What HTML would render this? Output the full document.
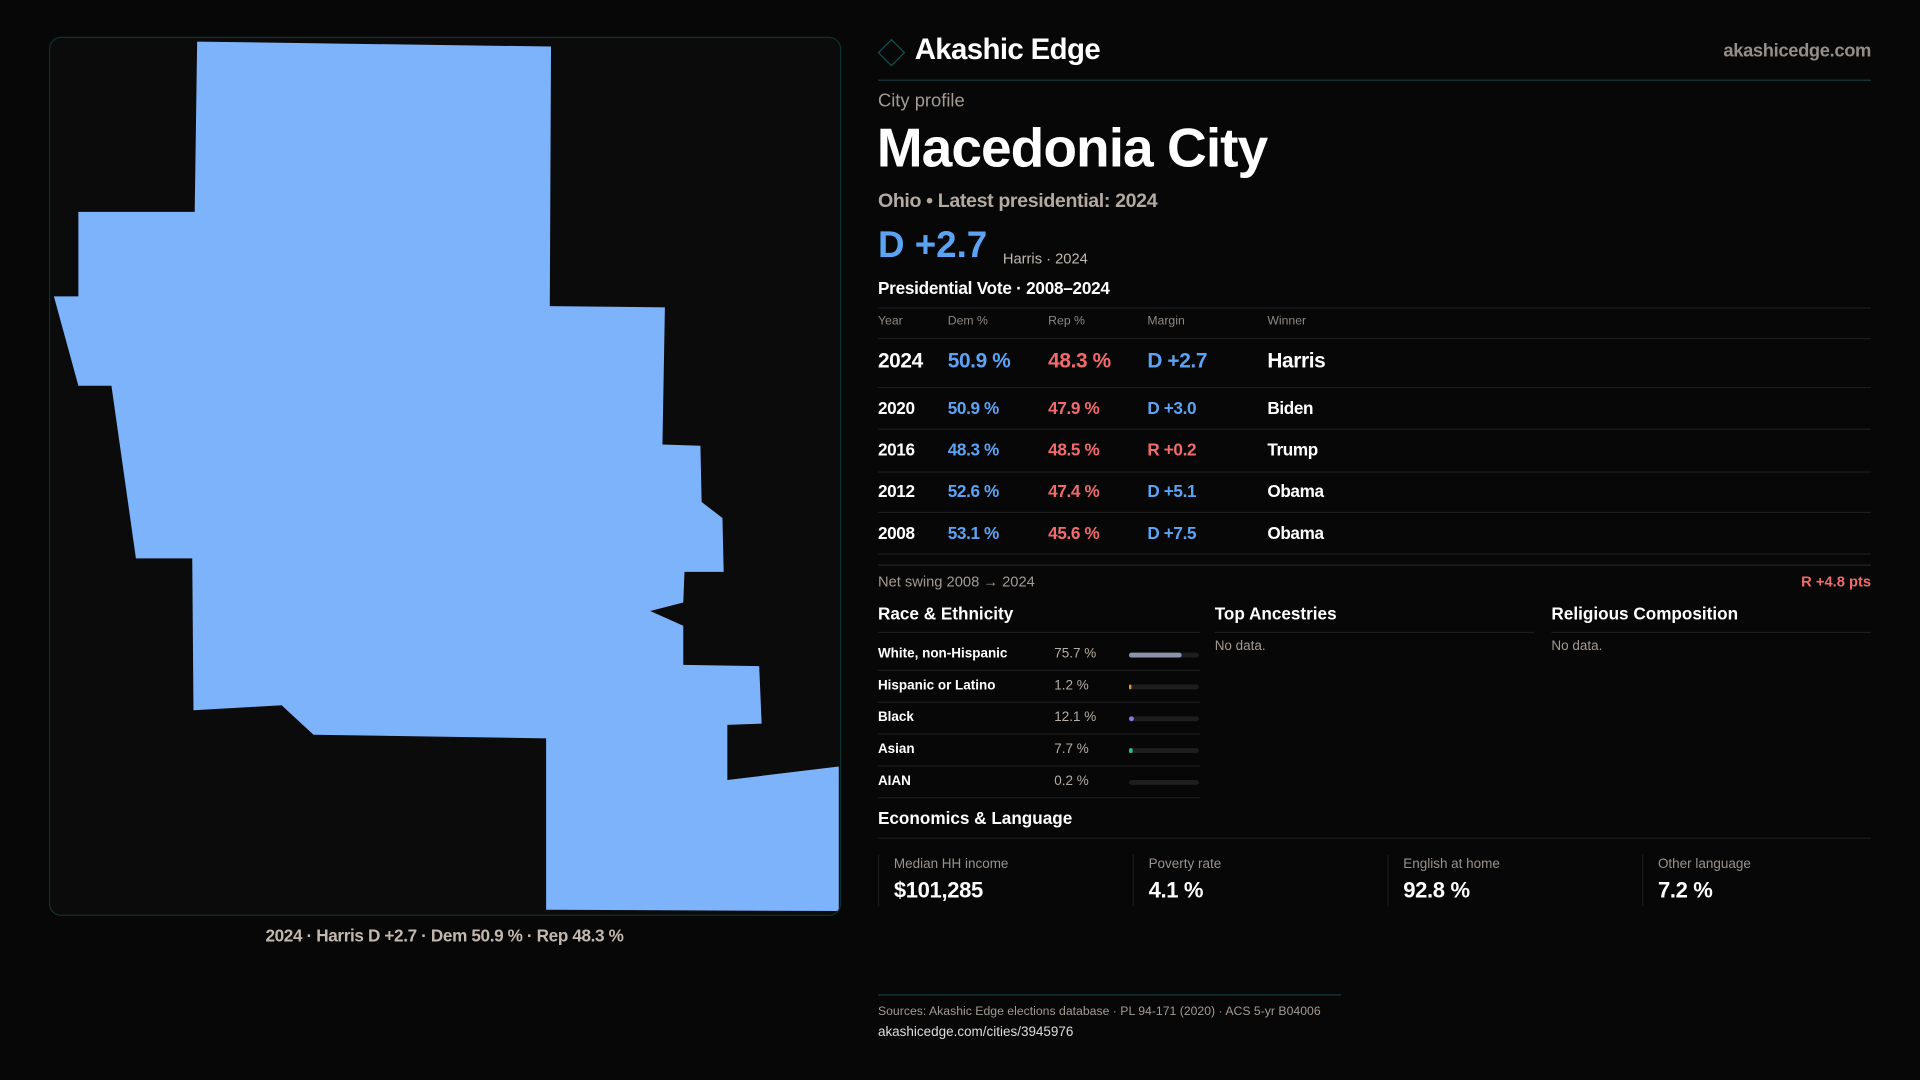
<!DOCTYPE html>
<html><head><meta charset="utf-8">
<style>
html,body{margin:0;padding:0;background:#070708;width:1920px;height:1080px;overflow:hidden}
#root{position:absolute;left:0;top:0;width:1568px;height:882px;transform:scale(1.22449);transform-origin:0 0;font-family:"Liberation Sans",sans-serif;color:#fff}
.a{position:absolute;white-space:nowrap}
.g{color:#a39a92}
.ln{position:absolute;height:1px;background:#1c1c1e}
.blue{color:#5ba4f5}.red{color:#f26b6b}
</style></head><body>
<div id="root">
  <div class="a" style="left:40px;top:30px;width:645px;height:716px;border:1px solid #12302f;border-radius:10px;background:#0b0b0c;overflow:hidden">
    <svg width="647" height="718" viewBox="40 30 647 718" style="position:absolute;left:-1px;top:-1px">
      <polygon fill="#7cb3fb" points="161,34 450,38 449,250 543,251 541,363 572,364 573,410 590,423 591,467 559,467 558,492 531,499 558,511 558,543 620,544 622,591 594,592 594,637 685,626 685,744 446,743 446,603 256,600 230,576 158,580 157,456 111,456 91,315 64,315 44,242 64,242 64,173 159,173"/>
    </svg>
  </div>
  <div class="a" style="left:40px;width:646px;top:756px;text-align:center;font-size:14px;font-weight:bold;color:#c2b8ae;letter-spacing:-0.3px">2024 · Harris D +2.7 · Dem 50.9 % · Rep 48.3 %</div>

  <div class="a" style="left:720px;top:35px;width:14px;height:14px;border:1.5px solid #164e4e;transform:rotate(45deg)"></div>
  <div class="a" style="left:747px;top:27px;font-size:24px;font-weight:bold;letter-spacing:-0.5px">Akashic Edge</div>
  <div class="a g" style="right:40px;top:33px;font-size:15px;font-weight:bold;color:#958d86;letter-spacing:-0.3px">akashicedge.com</div>
  <div class="ln" style="left:717px;width:811px;top:65px;background:#163c3e"></div>

  <div class="a g" style="left:717px;top:74px;font-size:15px">City profile</div>
  <div class="a" style="left:716px;top:95px;font-size:45px;font-weight:bold;letter-spacing:-0.8px">Macedonia City</div>
  <div class="a g" style="left:717px;top:156px;font-size:16px;font-weight:bold;color:#b2a9a0;letter-spacing:-0.3px">Ohio • Latest presidential: 2024</div>
  <div class="a blue" style="left:717px;top:184px;font-size:30px;font-weight:bold">D +2.7</div>
  <div class="a" style="left:819px;top:204px;font-size:12px;color:#c2b8ae">Harris · 2024</div>
  <div class="a" style="left:717px;top:227px;font-size:14px;font-weight:bold;letter-spacing:-0.2px">Presidential Vote · 2008–2024</div>
  <div class="ln" style="left:717px;width:811px;top:251px"></div>
  <div id="vt"></div>
  <div class="ln" style="left:717px;width:811px;top:461px;background:#262628"></div>
  <div class="a g" style="left:717px;top:468px;font-size:12px">Net swing 2008 → 2024</div>
  <div class="a red" style="right:40px;top:468px;font-size:12px;font-weight:bold">R +4.8 pts</div>

  <div class="a" style="left:717px;top:493px;font-size:14px;font-weight:bold">Race &amp; Ethnicity</div>
  <div class="a" style="left:992px;top:493px;font-size:14px;font-weight:bold">Top Ancestries</div>
  <div class="a" style="left:1267px;top:493px;font-size:14px;font-weight:bold">Religious Composition</div>
  <div class="ln" style="left:717px;width:263px;top:516px"></div>
  <div class="ln" style="left:992px;width:261px;top:516px"></div>
  <div class="ln" style="left:1267px;width:261px;top:516px"></div>
  <div class="a g" style="left:992px;top:522px;font-size:11px">No data.</div>
  <div class="a g" style="left:1267px;top:522px;font-size:11px">No data.</div>
  <div id="race"></div>

  <div class="a" style="left:717px;top:660px;font-size:14px;font-weight:bold">Economics &amp; Language</div>
  <div class="ln" style="left:717px;width:811px;top:684px"></div>
  <div id="econ"></div>

  <div class="ln" style="left:717px;width:378px;top:812px;background:#163c3e"></div>
  <div class="a g" style="left:717px;top:821px;font-size:10px">Sources: Akashic Edge elections database · PL 94-171 (2020) · ACS 5-yr B04006</div>
  <div class="a" style="left:717px;top:837px;font-size:11px;color:#ddd">akashicedge.com/cities/3945976</div>
</div>
<script>
const years=["2024","2020","2016","2012","2008"];
const demPct=[50.9,50.9,48.3,52.6,53.1];
const repPct=[48.3,47.9,48.5,47.4,45.6];
const marginVals=[2.7,3.0,-0.2,5.1,7.5];
const winners=["Harris","Biden","Trump","Obama","Obama"];
const raceLabels=["White, non-Hispanic","Hispanic or Latino","Black","Asian","AIAN"];
const raceValues=[75.7,1.2,12.1,7.7,0.2];
const raceColors=["#8b95a8","#d9962a","#8a78e0","#2bbf8a","#555"];
const econLabels=["Median HH income","Poverty rate","English at home","Other language"];
const econValues=["$101,285","4.1 %","92.8 %","7.2 %"];

function mk(parent,css,text){const d=document.createElement('div');d.className='a';d.style.cssText=css;if(text!==undefined)d.textContent=text;parent.appendChild(d);return d;}
const vt=document.getElementById('vt');
const cols=[717,774,856,937,1035];
const heads=["Year","Dem %","Rep %","Margin","Winner"];
heads.forEach((h,i)=>{const e=mk(vt,`left:${cols[i]}px;top:257px;font-size:10px;color:#8f8780`,h);

});
mk(vt,'left:717px;width:811px;top:276px;height:1px;background:#1c1c1e');
const rowTop=[285,325,359,393,427];
const lineY=[316,350,385,418,452];
years.forEach((y,i)=>{
  const big=i===0;const fs=big?17:14;const t=rowTop[i];
  const m=marginVals[i];
  const mt=(m>=0?'D +':'R +')+Math.abs(m).toFixed(1);
  const cells=[[y,'#fff'],[demPct[i].toFixed(1)+' %','#5ba4f5'],[repPct[i].toFixed(1)+' %','#f26b6b'],[mt,m>=0?'#5ba4f5':'#f26b6b'],[winners[i],'#fff']];
  cells.forEach((c,j)=>{const e=mk(vt,`left:${cols[j]}px;top:${t}px;font-size:${fs}px;font-weight:bold;letter-spacing:-0.3px;color:${c[1]}`,c[0]);
  
  });
  const l=mk(vt,`left:717px;width:811px;top:${lineY[i]}px;height:1px;background:#1c1c1e`);
  
  
});
const race=document.getElementById('race');
const barX=922,barW=57;
raceLabels.forEach((lab,i)=>{
  const t=528+i*26;
  const a=mk(race,`left:717px;top:${t}px;font-size:11px;font-weight:bold`,lab);
  
  
  const v=mk(race,`left:861px;top:${t}px;font-size:11px;color:#b5ada5`,raceValues[i].toFixed(1)+' %');
  
  
  const bg=mk(race,`left:${barX}px;top:${t+5}px;width:${barW}px;height:4px;border-radius:2px;background:#1e1e20`);
  
  
  let w=raceValues[i]/100*barW;
  if(raceValues[i]>=1&&raceValues[i]<10)w=Math.max(w*0.7,2);
  if(raceValues[i]>=10&&raceValues[i]<20)w=w*0.6;
  if(raceValues[i]<1)w=0;
  const f=mk(race,`left:${barX}px;top:${t+5}px;width:${Math.max(w,raceValues[i]>=1?1:0)}px;height:4px;border-radius:2px;background:${raceColors[i]}`);
  
  
  const l=mk(race,`left:717px;width:263px;top:${t+19}px;height:1px;background:#1c1c1e`);
  
  
});
const econ=document.getElementById('econ');
econLabels.forEach((lab,i)=>{
  const x=717+i*208;
  const box=mk(econ,`left:${x}px;top:698px;width:1px;height:42px;background:#1a1a1c`);
  
  
  const l=mk(econ,`left:${x+13}px;top:700px;font-size:11px;color:#9a928b`,lab);
  
  
  const v=mk(econ,`left:${x+13}px;top:717px;font-size:18px;font-weight:bold;letter-spacing:-0.3px`,econValues[i]);
  
  
});
</script>
</body></html>
